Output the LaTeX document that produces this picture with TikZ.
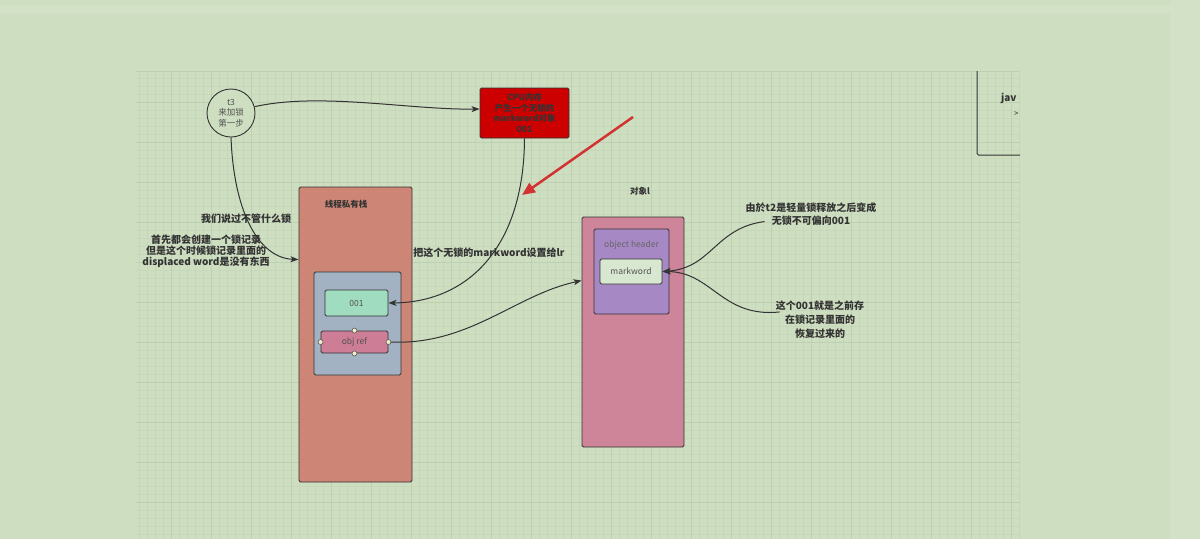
\documentclass[tikz,border=0pt]{standalone}
\usepackage{fontspec}
\setmainfont{Noto Sans CJK SC}
\usetikzlibrary{arrows.meta,calc}
\definecolor{bg}{RGB}{206,222,193}
\definecolor{bgl}{RGB}{211,226,198}
\definecolor{gridminor}{RGB}{199,216,186}
\definecolor{gridmajor}{RGB}{190,208,178}
\definecolor{ink}{RGB}{51,51,51}
\definecolor{cpured}{RGB}{204,0,0}
\definecolor{stackc}{RGB}{205,134,117}
\definecolor{innerc}{RGB}{163,178,194}
\definecolor{greenc}{RGB}{160,220,192}
\definecolor{refc}{RGB}{206,125,150}
\definecolor{objc}{RGB}{206,132,153}
\definecolor{hdrc}{RGB}{166,136,196}
\definecolor{mwc}{RGB}{216,232,208}
\definecolor{handlec}{RGB}{240,238,200}
\definecolor{redarrow}{RGB}{210,50,50}
\tikzset{
  box/.style={draw=ink, line width=0.9pt, rounded corners=1.5pt, inner sep=0pt},
  arr/.style={draw=ink, line width=1pt, -{Stealth[length=8pt,width=6pt,inset=2pt]}},
  conn/.style={draw=ink, line width=1pt},
  lbl/.style={text=ink, font=\fontsize{10}{12.5}\selectfont\bfseries, align=center, inner sep=1pt},
  small/.style={text=ink!85, font=\fontsize{8.5}{10.5}\selectfont, align=center, inner sep=0pt},
  handle/.style={circle, draw=ink!80, fill=handlec, line width=0.6pt, minimum size=5pt, inner sep=0pt}
}
\begin{document}
\begin{tikzpicture}[x=1pt,y=-1pt]
\useasboundingbox (0,0) rectangle (1200,539);
\fill[bg] (0,0) rectangle (1200,539);
\fill[bgl] (0,5) rectangle (1170,13);
\fill[bgl] (1170,0) rectangle (1200,539);
% grid
\foreach \x in {139,147,...,1019} \draw[gridminor, line width=0.4pt] (\x,71) -- (\x,539);
\foreach \y in {78,86,...,534} \draw[gridminor, line width=0.4pt] (136,\y) -- (1020,\y);
\foreach \x in {171,211,...,1011} \draw[gridmajor, line width=0.6pt] (\x,71) -- (\x,539);
\foreach \y in {102,142,...,502} \draw[gridmajor, line width=0.6pt] (136,\y) -- (1020,\y);
\draw[gridmajor, line width=0.6pt] (136,71) -- (1020,71);

% partial box on the right
\draw[ink, line width=1pt, rounded corners=1.5pt] (977,71) -- (977,155) -- (1020,155);
\node[anchor=west, text=ink, font=\fontsize{10}{12}\selectfont\bfseries, inner sep=0pt] (jav) at (1001,98) {jav};
\node[anchor=west, text=ink, font=\fontsize{8}{10}\selectfont, inner sep=0pt] (gt) at (1014,114) {>};

% nodes
\node[circle, draw=ink, fill=bg, line width=0.9pt, minimum size=48pt, inner sep=0pt, small] (t3) at (231,113) {t3\\来加锁\\第一步};
\node[box, fill=cpured, minimum width=89pt, minimum height=50pt, text=ink, font=\fontsize{8.5}{10.5}\selectfont\bfseries, align=center] (cpu) at (524.5,113) {CPU内存\\产生一个无锁的\\markword对象\\001};

\node[box, fill=stackc, minimum width=113pt, minimum height=295pt] (stack) at (355.5,334.5) {};
\node[text=ink, font=\fontsize{8.5}{10}\selectfont\bfseries, inner sep=0pt] (stacktitle) at (346,204) {线程私有栈};
\node[box, fill=innerc, minimum width=87pt, minimum height=103pt] (inner) at (357.5,323.5) {};
\node[box, fill=greenc, minimum width=63pt, minimum height=26pt, small] (v001) at (356.5,303) {001};
\node[box, fill=refc, minimum width=67pt, minimum height=22pt, small] (ref) at (354.5,342) {obj ref};
\node[handle] (h1) at (ref.north) {};
\node[handle] (h2) at (ref.south) {};
\node[handle] (h3) at (ref.west) {};
\node[handle] (h4) at (ref.east) {};

\node[box, fill=objc, minimum width=102pt, minimum height=230pt] (obj) at (633,332) {};
\node[text=ink, font=\fontsize{8.5}{10}\selectfont\bfseries, inner sep=0pt] (objtitle) at (640,191) {对象l};
\node[box, fill=hdrc, minimum width=75pt, minimum height=85pt] (hdr) at (631.5,271.5) {};
\node[small, text=ink!75] (hdrtext) at (631.5,245) {object header};
\node[box, fill=mwc, minimum width=62pt, minimum height=25pt, small] (mw) at (631,271.5) {markword};

% labels
\node[lbl] (l1) at (246,219) {我们说过不管什么锁};
\node[lbl, font=\fontsize{10}{11}\selectfont\bfseries] (l2) at (206,251) {首先都会创建一个锁记录\\但是这个时候锁记录里面的\\displaced word是没有东西};
\node[lbl] (l3) at (489,253) {把这个无锁的markword设置给lr};
\node[lbl, font=\fontsize{10}{13}\selectfont\bfseries] (l4) at (811,214) {由於t2是轻量锁释放之后变成\\无锁不可偏向001};
\node[lbl, font=\fontsize{10}{14}\selectfont\bfseries] (l5) at (820,320) {这个001就是之前存\\在锁记录里面的\\恢复过来的};

% connectors
\coordinate (stackin) at ($(stack.north west)+(0,73)$);
\coordinate (objin) at ($(obj.north west)+(0,64)$);
\coordinate (a1) at ($(l4.south west)+(20,-5)$);
\coordinate (a2) at ($(l5.north west)+(5,12)$);
\draw[arr] (t3.15) .. controls (320,92) and (410,110) .. (cpu.west |- 0,109);
\draw[arr] (t3.south) .. controls (234,215) and (260,258) .. (stackin);
\draw[arr] (cpu.south) .. controls (524,245) and (470,302) .. (v001.east);
\draw[arr] (h4) .. controls (470,345) and (515,295) .. (objin);
\draw[arr] (a1) .. controls (715,228) and (712,268) .. (mw.east);
\draw[arr] (a2) .. controls (722,318) and (712,272) .. (mw.east);
% red arrow
\coordinate (rs) at (633,117);
\coordinate (re) at (522,195);
\draw[redarrow, line width=2.5pt, -{Triangle[length=13pt,width=11pt]}] (rs) -- (re);
\end{tikzpicture}
\end{document}
